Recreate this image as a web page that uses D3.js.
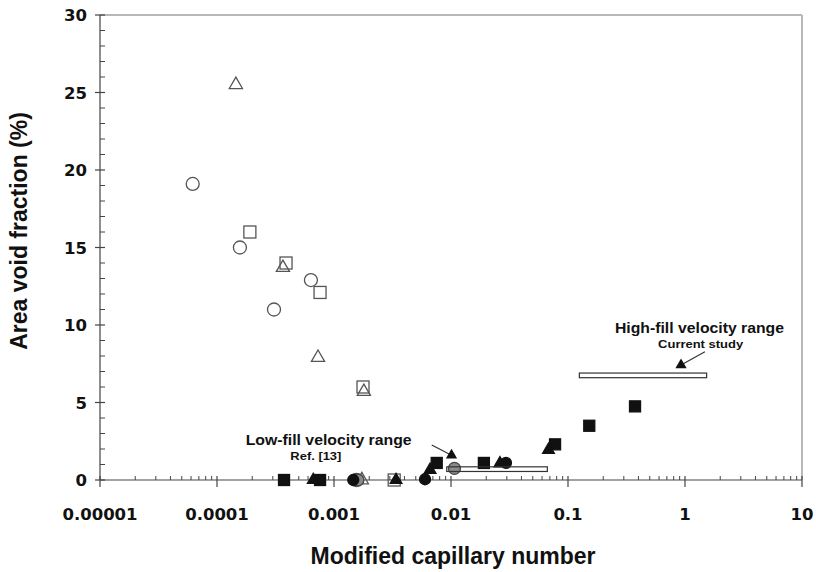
<!DOCTYPE html>
<html>
<head>
<meta charset="utf-8">
<script src="https://cdn.jsdelivr.net/npm/d3@7/dist/d3.min.js"></script>
<style>
    body { margin: 0; background: #fff; }
    .tick_label { font-family: "DejaVu Sans", sans-serif; font-weight: bold; font-size: 16.5px; fill: #111; }
    .axis_title { font-family: "Liberation Sans", Arial, sans-serif; font-weight: bold; font-size: 23px; fill: #111; }
    .note { font-family: "Liberation Sans", Arial, sans-serif; font-weight: bold; fill: #111; }
</style>
</head>
<body>
<div id="chart"></div>
<script>
// tick values and labels
let xTickValues = [1e-5, 1e-4, 1e-3, 1e-2, 1e-1, 1, 10]
let xTickLabels = ['0.00001', '0.0001', '0.001', '0.01', '0.1', '1', '10']
let yTickValues = [0, 5, 10, 15, 20, 25, 30]

// open (grey outline) series
let openCircleX = [6.2e-5, 1.57e-4, 3.07e-4, 6.35e-4, 1.55e-3]
let openCircleY = [19.1, 15.0, 11.0, 12.9, 0]
let openSquareX = [1.91e-4, 3.89e-4, 7.6e-4, 1.77e-3, 3.27e-3]
let openSquareY = [16.0, 14.0, 12.1, 6.0, 0]
let openTriangleX = [1.45e-4, 3.66e-4, 7.3e-4, 1.8e-3, 1.73e-3]
let openTriangleY = [25.5, 13.7, 7.9, 5.7, 0]

// filled series
let filledSquareX = [3.74e-4, 7.6e-4, 7.55e-3, 0.0191, 0.0775, 0.152, 0.374]
let filledSquareY = [0, 0, 1.1, 1.1, 2.3, 3.5, 4.75]
let filledTriangleX = [6.65e-4, 3.39e-3, 6.62e-3, 0.0262, 0.0681]
let filledTriangleY = [0, 0, 0.65, 1.07, 1.94]
let filledCircleX = [1.46e-3, 6.0e-3, 0.0295]
let filledCircleY = [0, 0.05, 1.1]
let greyCircleX = [1.6e-3, 0.0107]
let greyCircleY = [0, 0.75]

// velocity range boxes: [xmin, xmax, ymin, ymax]
let lowRange = [9.2e-3, 0.0666, 0.55, 0.85]
let highRange = [0.125, 1.53, 6.6, 6.9]

// annotation arrows: [x0, y0, x1, y1]
let lowArrow = [6.84e-3, 2.26, 0.0101, 1.6]
let highArrow = [1.48, 8.28, 0.925, 7.42]

// annotation texts: [text, x, y]
let lowTitle = ['Low-fill velocity range', 9.0e-4, 2.26]
let lowRef = ['Ref. [13]', 7.0e-4, 1.29]
let highTitle = ['High-fill velocity range', 1.33, 9.48]
let highRef = ['Current study', 1.36, 8.52]

let svgWidth = 816
let svgHeight = 572
let svg = d3.select('#chart').append('svg')
    .attr('width', svgWidth)
    .attr('height', svgHeight)

let x = d3.scaleLog().domain([1e-5, 10]).range([100, 802])
let y = d3.scaleLinear().domain([0, 30]).range([480, 15])

// frame (top and right in light grey)
svg.append('line')
    .attr('x1', x(1e-5)).attr('x2', x(10))
    .attr('y1', y(30)).attr('y2', y(30))
    .attr('stroke', '#b8b8b8').attr('stroke-width', 2)
svg.append('line')
    .attr('x1', x(10)).attr('x2', x(10))
    .attr('y1', y(30)).attr('y2', y(0))
    .attr('stroke', '#b8b8b8').attr('stroke-width', 2)

// x axis
let xMinor = x.ticks().filter(d => xTickValues.indexOf(d) < 0)
let gx = svg.append('g')
gx.append('line')
    .attr('x1', x(1e-5)).attr('x2', x(10))
    .attr('y1', y(0)).attr('y2', y(0))
    .attr('stroke', '#444').attr('stroke-width', 1.2)
gx.selectAll('.minor')
    .data(xMinor)
    .enter()
    .append('line')
    .attr('class', 'minor')
    .attr('x1', d => x(d)).attr('x2', d => x(d))
    .attr('y1', y(0) - 4).attr('y2', y(0))
    .attr('stroke', '#444').attr('stroke-width', 1)
gx.selectAll('.major')
    .data(xTickValues)
    .enter()
    .append('line')
    .attr('class', 'major')
    .attr('x1', d => x(d)).attr('x2', d => x(d))
    .attr('y1', y(0) - 4).attr('y2', y(0) + 7)
    .attr('stroke', '#444').attr('stroke-width', 1.2)
gx.selectAll('text')
    .data(xTickValues)
    .enter()
    .append('text')
    .attr('class', 'tick_label')
    .attr('x', d => x(d))
    .attr('y', y(0) + 40)
    .attr('text-anchor', 'middle')
    .text((d, i) => xTickLabels[i])

// y axis
let yMinor = d3.range(0, 31).filter(d => yTickValues.indexOf(d) < 0)
let gy = svg.append('g')
gy.append('line')
    .attr('x1', x(1e-5)).attr('x2', x(1e-5))
    .attr('y1', y(30)).attr('y2', y(0))
    .attr('stroke', '#444').attr('stroke-width', 1.2)
gy.selectAll('.minor')
    .data(yMinor)
    .enter()
    .append('line')
    .attr('class', 'minor')
    .attr('x1', x(1e-5)).attr('x2', x(1e-5) + 5)
    .attr('y1', d => y(d)).attr('y2', d => y(d))
    .attr('stroke', '#444').attr('stroke-width', 1)
gy.selectAll('.major')
    .data(yTickValues)
    .enter()
    .append('line')
    .attr('class', 'major')
    .attr('x1', x(1e-5) - 5).attr('x2', x(1e-5) + 5)
    .attr('y1', d => y(d)).attr('y2', d => y(d))
    .attr('stroke', '#444').attr('stroke-width', 1.2)
gy.selectAll('text')
    .data(yTickValues)
    .enter()
    .append('text')
    .attr('class', 'tick_label')
    .attr('x', x(1e-5) - 13)
    .attr('y', d => y(d) + 6)
    .attr('text-anchor', 'end')
    .text(d => d)

// axis titles
svg.append('text')
    .attr('class', 'axis_title')
    .attr('x', 453)
    .attr('y', 564)
    .attr('text-anchor', 'middle')
    .text('Modified capillary number')
svg.append('g')
    .attr('transform', 'translate(27, 231) rotate(-90)')
    .append('text')
    .attr('class', 'axis_title')
    .attr('text-anchor', 'middle')
    .text('Area void fraction (%)')

// range boxes (white background)
let boxes = svg.append('g')
;[lowRange, highRange].forEach(r => {
    boxes.append('rect')
        .attr('x', x(r[0]))
        .attr('y', y(r[3]))
        .attr('width', x(r[1]) - x(r[0]))
        .attr('height', y(r[2]) - y(r[3]))
        .attr('fill', '#fff')
})

function drawMarkers(xs, ys, shape, fill, stroke, size) {
    let g = svg.append('g')
    let pts = xs.map((d, i) => [d, ys[i]])
    if (shape == 'circle') {
        g.selectAll('circle')
            .data(pts)
            .enter()
            .append('circle')
            .attr('cx', d => x(d[0]))
            .attr('cy', d => y(d[1]))
            .attr('r', size / 2)
            .attr('fill', fill)
            .attr('stroke', stroke)
            .attr('stroke-width', 1.3)
    } else if (shape == 'square') {
        g.selectAll('rect')
            .data(pts)
            .enter()
            .append('rect')
            .attr('x', d => x(d[0]) - size / 2)
            .attr('y', d => y(d[1]) - size / 2)
            .attr('width', size)
            .attr('height', size)
            .attr('fill', fill)
            .attr('stroke', stroke)
            .attr('stroke-width', 1.3)
    } else {
        g.selectAll('path')
            .data(pts)
            .enter()
            .append('path')
            .attr('transform', d => `translate(${x(d[0])}, ${y(d[1])})`)
            .attr('d', d3.symbol().type(d3.symbolTriangle).size(size))
            .attr('fill', fill)
            .attr('stroke', stroke)
            .attr('stroke-width', 1.3)
    }
}

drawMarkers(openCircleX, openCircleY, 'circle', 'none', '#555', 13)
drawMarkers(openSquareX, openSquareY, 'square', 'none', '#555', 12)
drawMarkers(openTriangleX, openTriangleY, 'triangle', 'none', '#555', 75)
drawMarkers(greyCircleX, greyCircleY, 'circle', '#8a8a8a', '#444', 12)
drawMarkers(filledSquareX, filledSquareY, 'square', '#111', '#111', 11)
drawMarkers(filledTriangleX, filledTriangleY, 'triangle', '#111', '#111', 60)
drawMarkers(filledCircleX, filledCircleY, 'circle', '#111', '#111', 11)

// range box outlines on top
;[lowRange, highRange].forEach(r => {
    svg.append('rect')
        .attr('x', x(r[0]))
        .attr('y', y(r[3]))
        .attr('width', x(r[1]) - x(r[0]))
        .attr('height', y(r[2]) - y(r[3]))
        .attr('fill', 'none')
        .attr('stroke', '#333')
        .attr('stroke-width', 1.2)
})
boxes.lower()

// arrows with triangle heads
;[lowArrow, highArrow].forEach(a => {
    svg.append('line')
        .attr('x1', x(a[0])).attr('y1', y(a[1]))
        .attr('x2', x(a[2])).attr('y2', y(a[3]))
        .attr('stroke', '#333').attr('stroke-width', 1.2)
    svg.append('path')
        .attr('transform', `translate(${x(a[2])}, ${y(a[3])})`)
        .attr('d', d3.symbol().type(d3.symbolTriangle).size(55))
        .attr('fill', '#111')
})

// annotation texts
function note(t, size, len) {
    svg.append('text')
        .attr('class', 'note')
        .attr('x', x(t[1]))
        .attr('y', y(t[2]))
        .attr('text-anchor', 'middle')
        .attr('font-size', size)
        .attr('textLength', len)
        .attr('lengthAdjust', 'spacingAndGlyphs')
        .text(t[0])
}
note(lowTitle, 14.5, 166)
note(lowRef, 11, 51)
note(highTitle, 14.5, 169)
note(highRef, 11, 85)
</script>
</body>
</html>
